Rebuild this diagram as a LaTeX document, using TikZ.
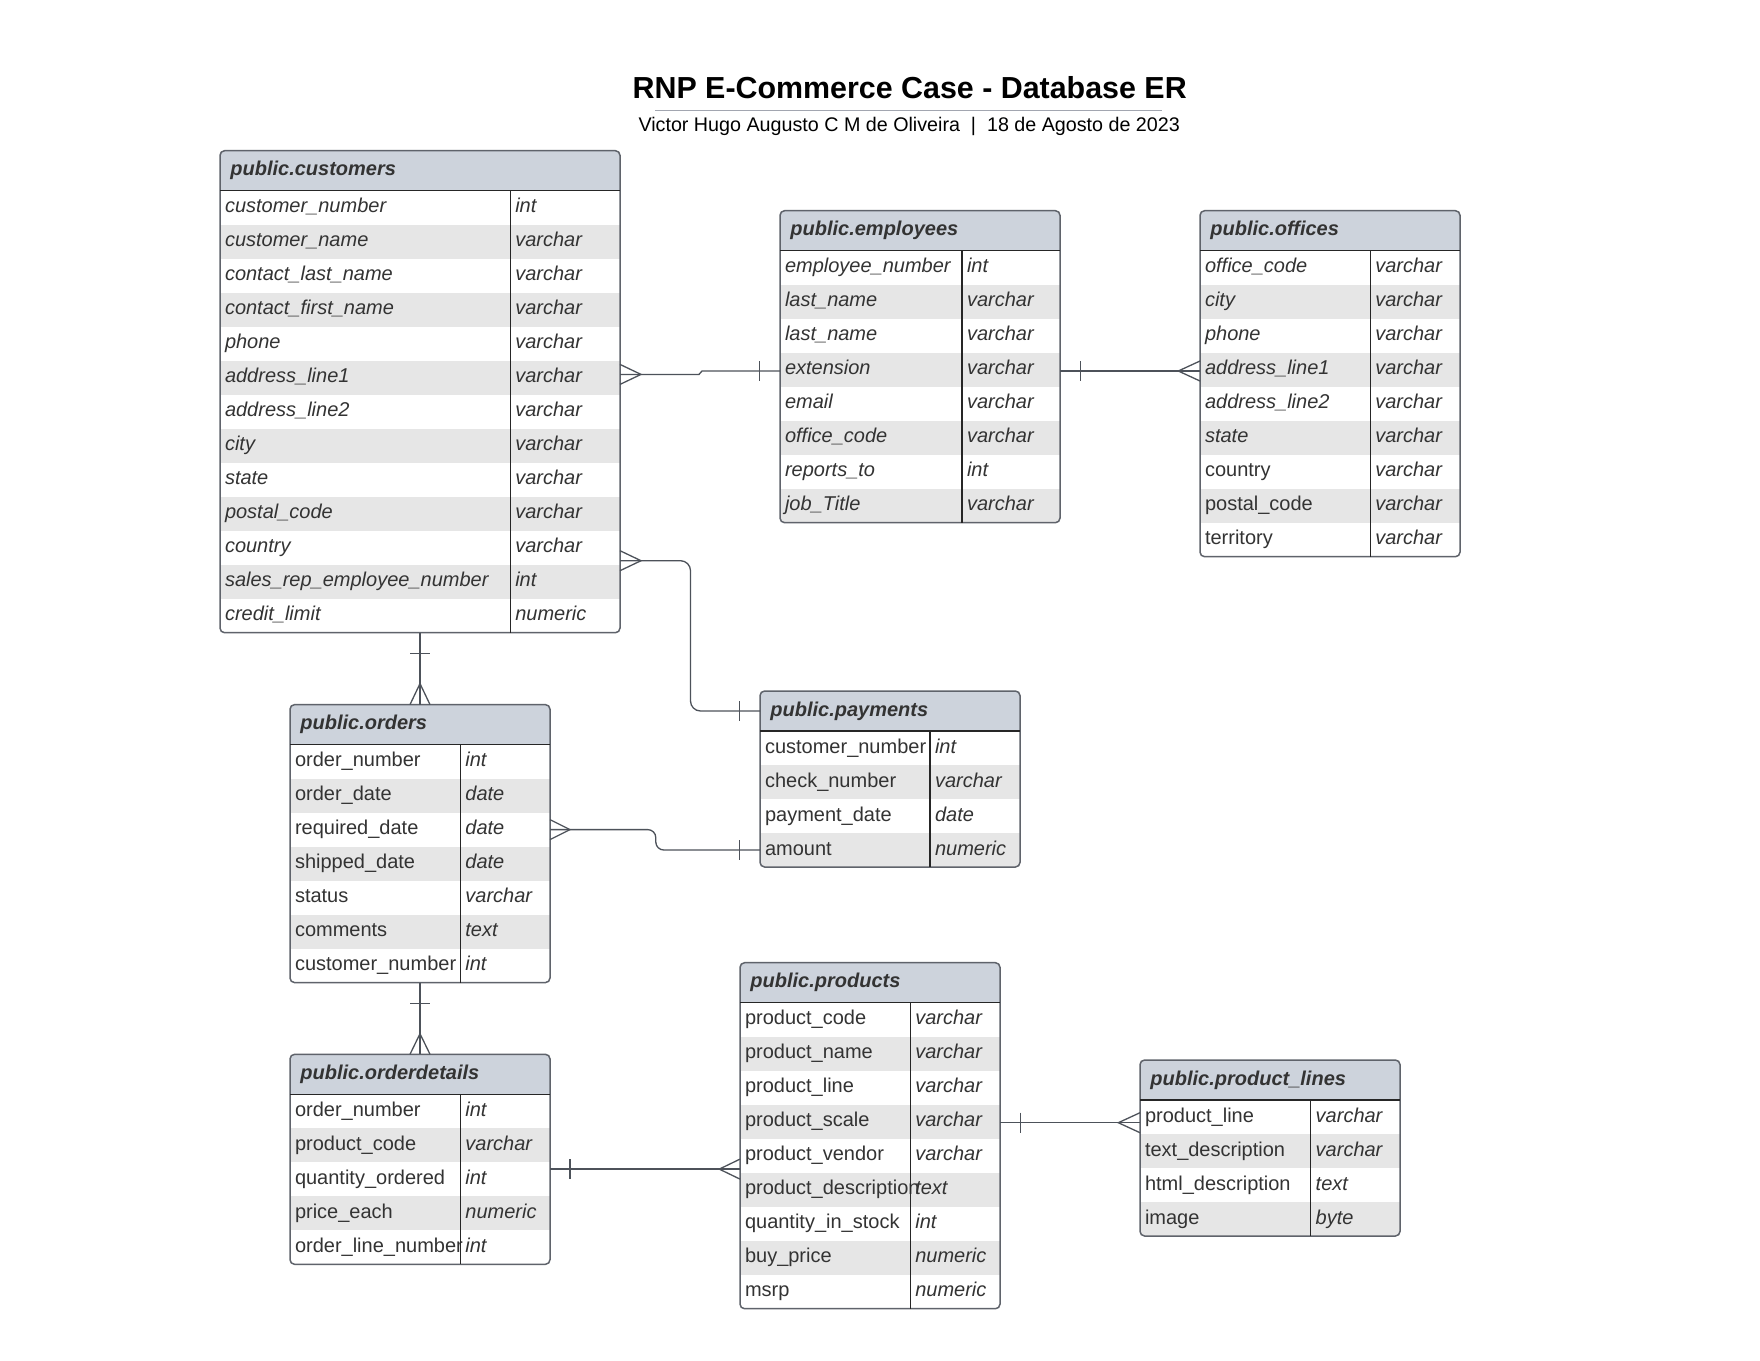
\documentclass[tikz,border=0pt]{standalone}
\usepackage{fontspec}
\setmainfont{Liberation Sans}
\usetikzlibrary{calc}
\definecolor{hdrfill}{HTML}{CDD3DC}
\definecolor{stripe}{HTML}{E6E6E6}
\definecolor{framec}{HTML}{5F636B}
\definecolor{connc}{HTML}{4D525A}
\definecolor{txt}{HTML}{333333}
\definecolor{sepline}{HTML}{A2A6B0}
\newcommand{\erfs}{\fontsize{10}{12}\selectfont}
\tikzset{
 cell/.style={anchor=base west, inner sep=0pt, outer sep=0pt, text=txt, font=\erfs},
 nmit/.style={cell, font=\erfs\itshape},
 nmup/.style={cell},
 tyit/.style={cell, font=\erfs\itshape},
 hdrtext/.style={anchor=base west, inner sep=0pt, text=txt, font=\erfs\bfseries\itshape},
 rowbox/.style={anchor=north west, inner sep=0pt, outer sep=0pt, draw=none},
 frame/.style={draw=framec, line width=0.75pt},
 sepl/.style={draw=black!85, line width=0.7pt},
 conn/.style={draw=connc, line width=0.65pt},
}
\newcommand{\erRH}{34}
\newcommand{\ertable}[7]{%
  \def\erId{#1}\def\erX{#2}\def\erY{#3}\def\erW{#4}\def\erD{#5}%
  \pgfmathsetmacro{\erB}{#3+40+#6*\erRH}%
  \begin{scope}
    \clip[rounded corners=2.3pt] (\erX,\erY) rectangle (\erX+\erW,\erB);
    \fill[hdrfill] (\erX,\erY) rectangle (\erX+\erW,\erY+40);
  \end{scope}
  \node[rowbox, minimum width=\erW*0.5pt, minimum height=20pt] (#1-h) at (\erX,\erY) {};
  \node[hdrtext] at (\erX+10,\erY+25) {#7};
}
\newcommand{\erow}[4]{%
  \pgfmathsetmacro{\erTop}{\erY+40+(#1-1)*\erRH}%
  \pgfmathtruncatemacro{\erPar}{mod(#1,2)}%
  \ifnum\erPar=0
   \begin{scope}
    \clip[rounded corners=2.3pt] (\erX,\erY) rectangle (\erX+\erW,\erB);
    \fill[stripe] (\erX,\erTop) rectangle (\erX+\erW,\erTop+\erRH);
   \end{scope}
  \fi
  \node[rowbox, minimum width=\erW*0.5pt, minimum height=\erRH*0.5pt] (\erId-#1) at (\erX,\erTop) {};
  \node[#4] at (\erX+5,\erTop+22.2) {#2};
  \node[tyit] at (\erX+\erD+5,\erTop+22.2) {#3};
}
\newcommand{\erclose}{%
  \draw[frame, rounded corners=2.3pt] (\erX,\erY) rectangle (\erX+\erW,\erB);
  \draw[sepl] (\erX,\erY+40) -- (\erX+\erW,\erY+40);
  \draw[sepl] (\erX+\erD,\erY+40) -- (\erX+\erD,\erB);
}
\begin{document}
\begin{tikzpicture}[x=0.5pt,y=-0.5pt]
\useasboundingbox[fill=white] (0,0) rectangle (1760,1360);

\node[anchor=base, inner sep=0pt, font=\fontsize{15.2}{18}\selectfont\bfseries] (title) at (909.7,98.8) {RNP E-Commerce Case - Database ER};
\draw[sepline, line width=0.7pt] (655,110.7) -- (1161.7,110.7);
\node[anchor=base, inner sep=0pt, font=\fontsize{9.85}{12}\selectfont] (subtitle) at (909.2,131.5) {Victor Hugo Augusto C M de Oliveira\ \ |\ \ 18 de Agosto de 2023};

% customers
\ertable{cust}{220}{150.7}{400}{290.3}{13}{public.customers}
\erow{1}{customer\_number}{int}{nmit}
\erow{2}{customer\_name}{varchar}{nmit}
\erow{3}{contact\_last\_name}{varchar}{nmit}
\erow{4}{contact\_first\_name}{varchar}{nmit}
\erow{5}{phone}{varchar}{nmit}
\erow{6}{address\_line1}{varchar}{nmit}
\erow{7}{address\_line2}{varchar}{nmit}
\erow{8}{city}{varchar}{nmit}
\erow{9}{state}{varchar}{nmit}
\erow{10}{postal\_code}{varchar}{nmit}
\erow{11}{country}{varchar}{nmit}
\erow{12}{sales\_rep\_employee\_number}{int}{nmit}
\erow{13}{credit\_limit}{numeric}{nmit}
\erclose

% employees
\ertable{emp}{780}{210.7}{280}{182}{8}{public.employees}
\erow{1}{employee\_number}{int}{nmit}
\erow{2}{last\_name}{varchar}{nmit}
\erow{3}{last\_name}{varchar}{nmit}
\erow{4}{extension}{varchar}{nmit}
\erow{5}{email}{varchar}{nmit}
\erow{6}{office\_code}{varchar}{nmit}
\erow{7}{reports\_to}{int}{nmit}
\erow{8}{job\_Title}{varchar}{nmit}
\erclose

% offices
\ertable{off}{1200}{210.7}{260}{170.3}{9}{public.offices}
\erow{1}{office\_code}{varchar}{nmit}
\erow{2}{city}{varchar}{nmit}
\erow{3}{phone}{varchar}{nmit}
\erow{4}{address\_line1}{varchar}{nmit}
\erow{5}{address\_line2}{varchar}{nmit}
\erow{6}{state}{varchar}{nmit}
\erow{7}{country}{varchar}{nmup}
\erow{8}{postal\_code}{varchar}{nmup}
\erow{9}{territory}{varchar}{nmup}
\erclose

% payments
\ertable{pay}{760}{691}{260}{170}{4}{public.payments}
\erow{1}{customer\_number}{int}{nmup}
\erow{2}{check\_number}{varchar}{nmup}
\erow{3}{payment\_date}{date}{nmup}
\erow{4}{amount}{numeric}{nmup}
\erclose

% orders
\ertable{ord}{290}{704.6}{260}{170.4}{7}{public.orders}
\erow{1}{order\_number}{int}{nmup}
\erow{2}{order\_date}{date}{nmup}
\erow{3}{required\_date}{date}{nmup}
\erow{4}{shipped\_date}{date}{nmup}
\erow{5}{status}{varchar}{nmup}
\erow{6}{comments}{text}{nmup}
\erow{7}{customer\_number}{int}{nmup}
\erclose

% orderdetails
\ertable{od}{290}{1054.3}{260}{170.4}{5}{public.orderdetails}
\erow{1}{order\_number}{int}{nmup}
\erow{2}{product\_code}{varchar}{nmup}
\erow{3}{quantity\_ordered}{int}{nmup}
\erow{4}{price\_each}{numeric}{nmup}
\erow{5}{order\_line\_number}{int}{nmup}
\erclose

% products
\ertable{prod}{740}{962.7}{260}{170.3}{9}{public.products}
\erow{1}{product\_code}{varchar}{nmup}
\erow{2}{product\_name}{varchar}{nmup}
\erow{3}{product\_line}{varchar}{nmup}
\erow{4}{product\_scale}{varchar}{nmup}
\erow{5}{product\_vendor}{varchar}{nmup}
\erow{6}{product\_description}{text}{nmup}
\erow{7}{quantity\_in\_stock}{int}{nmup}
\erow{8}{buy\_price}{numeric}{nmup}
\erow{9}{msrp}{numeric}{nmup}
\erclose

% product lines
\ertable{pl}{1140}{1060}{260}{170.7}{4}{public.product\_lines}
\erow{1}{product\_line}{varchar}{nmup}
\erow{2}{text\_description}{varchar}{nmup}
\erow{3}{html\_description}{text}{nmup}
\erow{4}{image}{byte}{nmup}
\erclose

% C1 customers -> employees
\coordinate (c1a) at ([yshift=1.65pt]cust-6.east);
\coordinate (c1b) at ([yshift=-0.65pt]emp-4.west);
\draw[conn] (c1a) -- ++(79,0) -- ([xshift=-39pt]c1b) -- (c1b);
\draw[conn] ([yshift=5pt]c1a) -- ([xshift=10.5pt]c1a) -- ([yshift=-5pt]c1a);
\draw[conn] ([xshift=-10.35pt,yshift=5pt]c1b) -- ([xshift=-10.35pt,yshift=-5pt]c1b);

% C2 employees -> offices
\coordinate (c2a) at ([yshift=-0.65pt]emp-4.east);
\coordinate (c2b) at (c2a -| off-4.west);
\draw[conn] (c2a) -- (c2b);
\draw[conn] ([xshift=10.15pt,yshift=5pt]c2a) -- ([xshift=10.15pt,yshift=-5pt]c2a);
\draw[conn] ([yshift=5pt]c2b) -- ([xshift=-10.85pt]c2b) -- ([yshift=-5pt]c2b);

% C3 customers -> payments
\coordinate (c3a) at ([yshift=-6.5pt]cust-11.east);
\draw[conn, rounded corners=5pt] (c3a) -- ++(70.5,0) |- (pay-h.west);
\draw[conn] ([yshift=5pt]c3a) -- ([xshift=10.5pt]c3a) -- ([yshift=-5pt]c3a);
\draw[conn] ([xshift=-10.25pt,yshift=5pt]pay-h.west) -- ([xshift=-10.25pt,yshift=-5pt]pay-h.west);

% C4 customers -> orders
\coordinate (c4a) at (cust-13.south);
\coordinate (c4b) at (c4a |- ord-h.north);
\draw[conn] (c4a) -- (c4b);
\draw[conn] ([xshift=-5pt,yshift=-10.3pt]c4a) -- ([xshift=5pt,yshift=-10.3pt]c4a);
\draw[conn] ([xshift=-5pt]c4b) -- ([yshift=10.5pt]c4b) -- ([xshift=5pt]c4b);

% C5 orders -> payments
\coordinate (c5a) at (ord-3.east);
\draw[conn, rounded corners=4pt] (c5a) -- ++(105.8,0) |- (pay-4.west);
\draw[conn] ([yshift=5pt]c5a) -- ([xshift=10pt]c5a) -- ([yshift=-5pt]c5a);
\draw[conn] ([xshift=-10.25pt,yshift=5pt]pay-4.west) -- ([xshift=-10.25pt,yshift=-5pt]pay-4.west);

% C6 orders -> orderdetails
\coordinate (c6a) at (ord-7.south);
\coordinate (c6b) at (c6a |- od-h.north);
\draw[conn] (c6a) -- (c6b);
\draw[conn] ([xshift=-5pt,yshift=-10.3pt]c6a) -- ([xshift=5pt,yshift=-10.3pt]c6a);
\draw[conn] ([xshift=-5pt]c6b) -- ([yshift=10.3pt]c6b) -- ([xshift=5pt]c6b);

% C7 orderdetails -> products
\coordinate (c7a) at ([yshift=5.1pt]od-3.east);
\coordinate (c7b) at (c7a -| prod-5.west);
\draw[conn] (c7a) -- (c7b);
\draw[conn] ([xshift=10pt,yshift=5pt]c7a) -- ([xshift=10pt,yshift=-5pt]c7a);
\draw[conn] ([yshift=5pt]c7b) -- ([xshift=-10.35pt]c7b) -- ([yshift=-5pt]c7b);

% C8 products -> product lines
\coordinate (c8a) at ([yshift=-0.5pt]prod-4.east);
\coordinate (c8b) at (c8a -| pl-1.west);
\draw[conn] (c8a) -- (c8b);
\draw[conn] ([xshift=10.15pt,yshift=5pt]c8a) -- ([xshift=10.15pt,yshift=-5pt]c8a);
\draw[conn] ([yshift=5pt]c8b) -- ([xshift=-10.85pt]c8b) -- ([yshift=-5pt]c8b);
\end{tikzpicture}
\end{document}
